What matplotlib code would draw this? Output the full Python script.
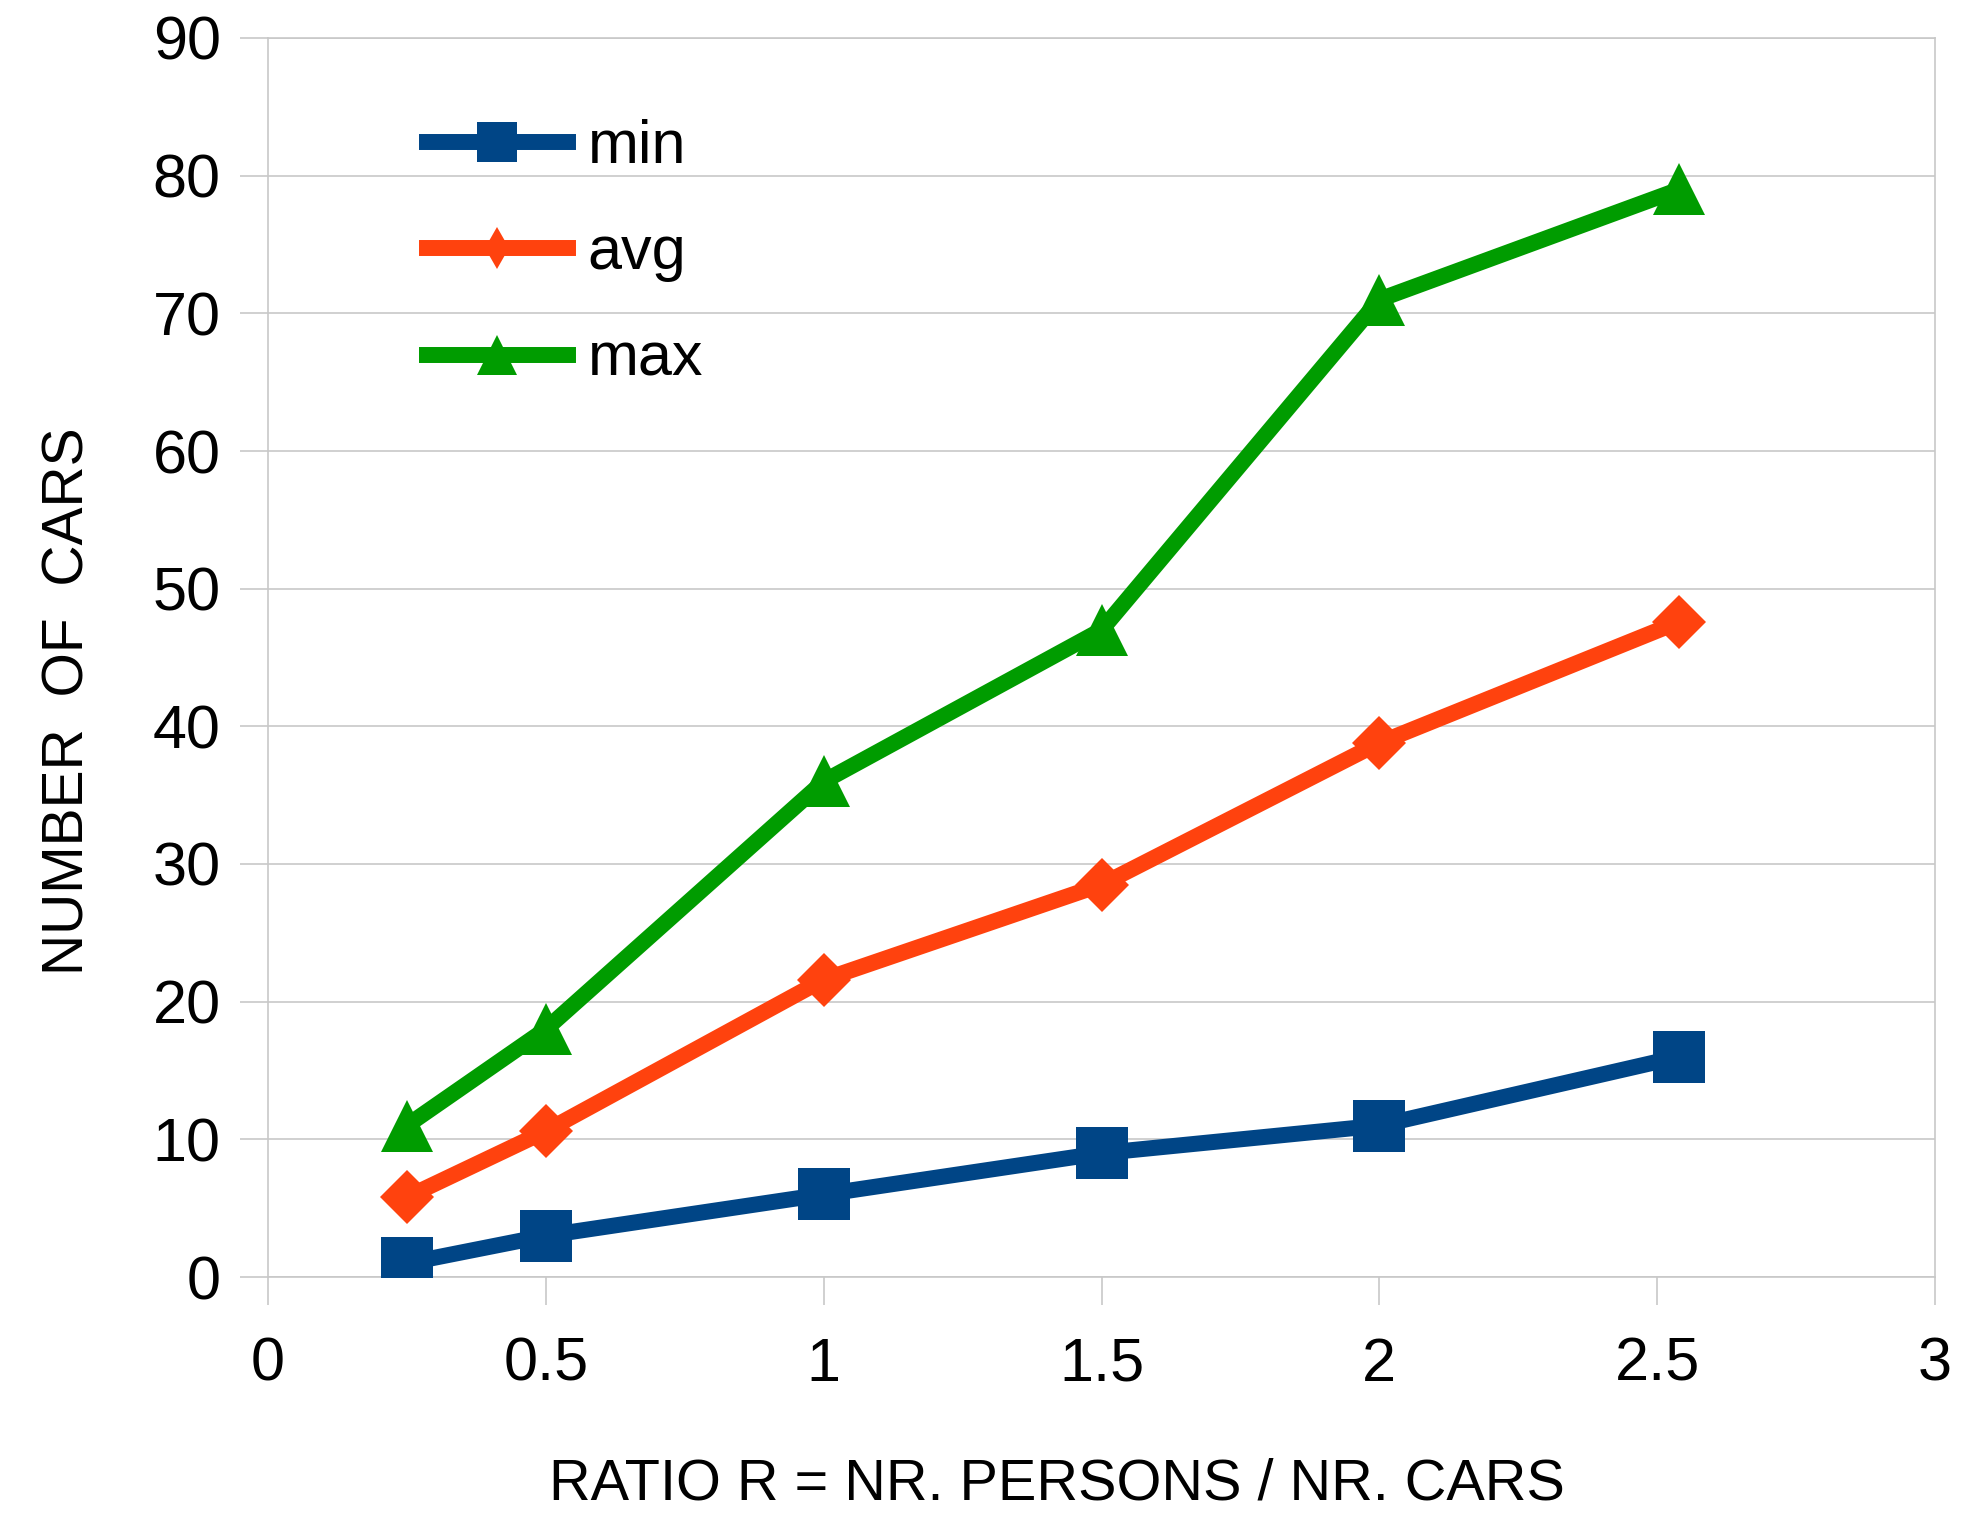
import matplotlib
matplotlib.use("Agg")
import matplotlib.pyplot as plt
from matplotlib.lines import Line2D

plt.rcParams['font.family'] = ['Liberation Sans', 'DejaVu Sans']

# data
ratio = [0.25, 0.5, 1.0, 1.5, 2.0, 2.54]
cars_min = [1.0, 3.0, 6.0, 9.0, 11.0, 16.0]
cars_avg = [5.8, 10.6, 21.6, 28.5, 38.8, 47.6]
cars_max = [11.0, 18.0, 36.0, 47.0, 71.0, 79.0]

x_ticks = [0, 0.5, 1, 1.5, 2, 2.5, 3]
x_tick_labels = ['0', '0.5', '1', '1.5', '2', '2.5', '3']
y_ticks = [0, 10, 20, 30, 40, 50, 60, 70, 80, 90]

blue = '#004586'
orange = '#ff420e'
green = '#009c00'
grey = '#c8c8c8'

W, H = 1980, 1519
fig = plt.figure(figsize=(W / 100, H / 100), dpi=100)
ax = fig.add_axes([268 / W, 1 - 1277 / H, (1935 - 268) / W, (1277 - 38) / H])

lw = 11.5
ax.plot(ratio, cars_min, color=blue, lw=lw, marker='s', ms=38, mew=0, zorder=3)
ax.plot(ratio, cars_avg, color=orange, lw=lw, marker='D', ms=27, mew=0, zorder=3)
ax.plot(ratio, cars_max, color=green, lw=lw, marker='^', ms=38, mew=0, zorder=3)

ax.set_xlim(0, 3)
ax.set_ylim(0, 90)
ax.set_xticks(x_ticks)
ax.set_xticklabels(x_tick_labels)
ax.set_yticks(y_ticks)
ax.yaxis.grid(True, color=grey, lw=1.2)
ax.set_axisbelow(True)
ax.tick_params(axis='both', length=20, width=1.2, color=grey, labelsize=44)
ax.tick_params(axis='y', pad=14)
ax.tick_params(axis='x', pad=23)
for s in ax.spines.values():
    s.set_color(grey)
    s.set_linewidth(1.2)

# legend with smaller markers, as in the original
handles = [
    Line2D([], [], color=blue, lw=lw, marker='s', ms=29, mew=0),
    Line2D([], [], color=orange, lw=lw, marker='d', ms=21, mew=0),
    Line2D([], [], color=green, lw=lw, marker='^', ms=29, mew=0),
]
ax.legend(handles, ['min', 'avg', 'max'], loc='upper left',
          bbox_to_anchor=(427 / W, 1 - 119 / H), bbox_transform=fig.transFigure,
          frameon=False, fontsize=44, handlelength=2.3, handletextpad=0.33,
          labelspacing=0.81, borderpad=0, borderaxespad=0)

fig.text(69 / W, 1 - 701 / H, 'NUMBER  OF  CARS', rotation=90, fontsize=41,
         ha='center', va='center')
fig.text(1057 / W, 1 - 1485 / H, 'RATIO R = NR. PERSONS / NR. CARS', fontsize=41.5,
         ha='center', va='center')

fig.savefig('out.png', dpi=100)
